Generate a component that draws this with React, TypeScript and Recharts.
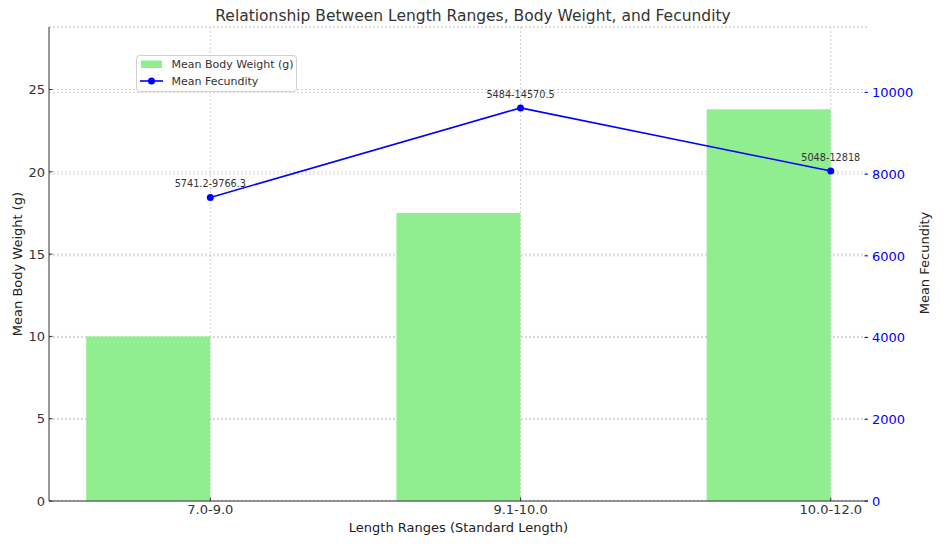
import React from "react";
import { ComposedChart, Bar, Line, XAxis, YAxis, CartesianGrid, LabelList } from "recharts";

const FONT = "'DejaVu Sans', sans-serif";

const categories = ["7.0-9.0", "9.1-10.0", "10.0-12.0"];
const bodyWeight = [10, 17.5, 23.8];
const fecundity = [7430, 9620, 8075];
const fecundityRanges = ["5741.2-9766.3", "5484-14570.5", "5048-12818"];
const weightTicks = [0, 5, 10, 15, 20, 25];
const fecundityTicks = [0, 2000, 4000, 6000, 8000, 10000];
const catTicks = [0, 1, 2];
const xDomain = [-0.52, 2.12];

const data = categories.map((c, i) => ({
  idx: i,
  label: c,
  weight: bodyWeight[i],
  fecundity: fecundity[i],
  range: fecundityRanges[i],
}));

const LeftTick = (p: any) => (
  <g>
    <line x1={p.x + 4} x2={p.x + 7.5} y1={p.y} y2={p.y} stroke="#333" />
    <text x={p.x} y={p.y} dy="0.36em" textAnchor="end" fontSize={13} fill="#333" fontFamily={FONT}>
      {p.payload.value}
    </text>
  </g>
);

const RightTick = (p: any) => (
  <g>
    <line x1={p.x - 4} x2={p.x - 7.5} y1={p.y} y2={p.y} stroke="blue" />
    <text x={p.x} y={p.y} dy="0.36em" textAnchor="start" fontSize={13} fill="blue" fontFamily={FONT}>
      {p.payload.value}
    </text>
  </g>
);

const BottomTick = (p: any) => (
  <g>
    <line x1={p.x} x2={p.x} y1={p.y - 4} y2={p.y - 7.5} stroke="#333" />
    <text x={p.x} y={p.y} dy="0.71em" textAnchor="middle" fontSize={13} fill="#333" fontFamily={FONT}>
      {categories[p.payload.value]}
    </text>
  </g>
);

// bars sit to the left of the tick (matplotlib align="edge", negative width)
const EdgeBar = (p: any) => (
  <rect x={p.x - p.width / 2} y={p.y} width={p.width} height={p.height} fill="#90EE90" />
);

const RangeLabel = (p: any) => (
  <text x={p.x} y={p.y - 10} textAnchor="middle" fontSize={9.7} fill="#333" fontFamily={FONT}>
    {p.value}
  </text>
);

// vertical grid only at the category ticks, not at the plot edges
const catGridX = ({ xAxis, offset }: any) => {
  if (xAxis && typeof xAxis.scale === "function") return catTicks.map((t) => xAxis.scale(t));
  return catTicks.map(
    (t) => offset.left + ((t - xDomain[0]) / (xDomain[1] - xDomain[0])) * offset.width
  );
};

export default function App() {
  return (
    <div style={{ position: "absolute", left: 0, top: 0, width: 946, height: 547, background: "#fff" }}>
      <ComposedChart width={946} height={547} data={data} margin={{ top: 27, right: 0, bottom: 0, left: 0 }}>
        <CartesianGrid yAxisId="left" stroke="#d2d2d2" strokeDasharray="2 2" verticalCoordinatesGenerator={catGridX} />
        <CartesianGrid yAxisId="right" vertical={false} stroke="#d2d2d2" strokeDasharray="2 2" />
        <XAxis
          dataKey="idx"
          type="number"
          domain={xDomain}
          ticks={catTicks}
          interval={0}
          height={46}
          stroke="#333"
          tickLine={false}
          tickSize={0}
          tickMargin={4}
          tick={<BottomTick />}
        />
        <YAxis
          yAxisId="left"
          orientation="left"
          domain={[0, 28.8]}
          ticks={weightTicks}
          width={49}
          stroke="#333"
          tickLine={false}
          tickSize={0}
          tickMargin={4}
          tick={<LeftTick />}
        />
        <YAxis
          yAxisId="right"
          orientation="right"
          domain={[0, 11600]}
          ticks={fecundityTicks}
          width={78}
          axisLine={false}
          tickLine={false}
          tickSize={0}
          tickMargin={4}
          tick={<RightTick />}
        />
        <Bar yAxisId="left" dataKey="weight" barSize={124} shape={<EdgeBar />} isAnimationActive={false} />
        <Line
          yAxisId="right"
          dataKey="fecundity"
          stroke="blue"
          strokeWidth={1.6}
          dot={{ r: 3.5, fill: "blue", stroke: "none" }}
          activeDot={false}
          isAnimationActive={false}
        >
          <LabelList dataKey="range" content={<RangeLabel />} />
        </Line>
      </ComposedChart>
      <svg width={946} height={547} style={{ position: "absolute", left: 0, top: 0, pointerEvents: "none" }} fontFamily={FONT}>
        <text x={473} y={15} dy="0.36em" textAnchor="middle" fontSize={15.5} fill="#333">
          Relationship Between Length Ranges, Body Weight, and Fecundity
        </text>
        <text x={458.5} y={527} dy="0.36em" textAnchor="middle" fontSize={13} fill="#222">
          Length Ranges (Standard Length)
        </text>
        <text x={17} y={264} dy="0.36em" textAnchor="middle" fontSize={13} fill="#222" transform="rotate(-90 17 264)">
          Mean Body Weight (g)
        </text>
        <text x={924} y={263} dy="0.36em" textAnchor="middle" fontSize={13} fill="#222" transform="rotate(-90 924 263)">
          Mean Fecundity
        </text>
        <rect x={136.5} y={55.5} width={160} height={36} rx={3} fill="#fff" fillOpacity={0.8} stroke="#d0d0d0" />
        <rect x={141} y={60.5} width={21} height={7.5} fill="#90EE90" />
        <text x={171.5} y={64} dy="0.36em" fontSize={11} fill="#333">Mean Body Weight (g)</text>
        <line x1={140} x2={163} y1={81} y2={81} stroke="blue" strokeWidth={1.6} />
        <circle cx={151.5} cy={81} r={3.5} fill="blue" />
        <text x={171.5} y={81} dy="0.36em" fontSize={11} fill="#333">Mean Fecundity</text>
      </svg>
    </div>
  );
}
